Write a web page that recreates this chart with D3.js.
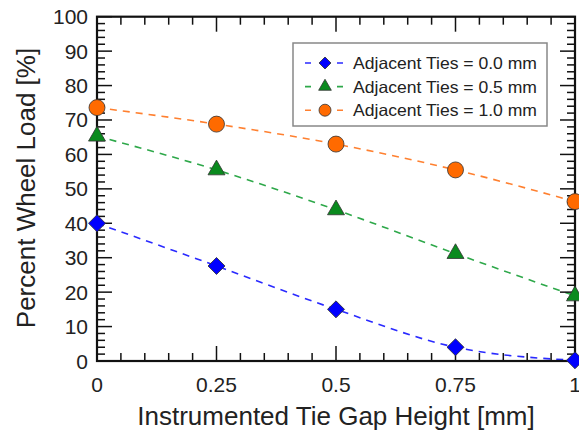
<!DOCTYPE html>
<html><head><meta charset="utf-8">
<script src="https://cdn.jsdelivr.net/npm/d3@7"></script>
<style>
body{margin:0;background:#fff;}
text{font-family:"Liberation Sans",Arial,sans-serif;fill:#222;}
</style></head>
<body><svg id="c" width="579" height="431"></svg>
<script>
const gaps = [0, 0.25, 0.5, 0.75, 1];
const ties00 = [40, 27.6, 15.0, 4.0, 0.2];
const ties05 = [65.3, 55.5, 43.9, 31.2, 18.9];
const ties10 = [73.6, 68.8, 63.0, 55.5, 46.3];
const seriesNames = ["Adjacent Ties = 0.0 mm", "Adjacent Ties = 0.5 mm", "Adjacent Ties = 1.0 mm"];
const xTickVals = [0, 0.25, 0.5, 0.75, 1];
const xTickLabels = ["0", "0.25", "0.5", "0.75", "1"];
const yTickVals = [0,10,20,30,40,50,60,70,80,90,100];

const svg = d3.select("#c");
const L = 97, R = 575, T = 16.7, B = 361;
const x = d3.scaleLinear().domain([0,1]).range([L,R]);
const y = d3.scaleLinear().domain([0,100]).range([B,T]);

const series = [
  {name: seriesNames[0], vals: ties00, line:"#2a2aff", fill:"#0000ff", sym:"diamond"},
  {name: seriesNames[1], vals: ties05, line:"#2ea84a", fill:"#0a8a1e", sym:"triangle"},
  {name: seriesNames[2], vals: ties10, line:"#ff8030", fill:"#ff6a00", sym:"circle"}
];

function symPath(s, big){
  if(s==="diamond") return d3.symbol(d3.symbolSquare, big?144:72)();
  if(s==="triangle") return d3.symbol(d3.symbolTriangle, big?125:70)();
  return d3.symbol(d3.symbolCircle, big?201:113)();
}
function symTransform(s, px, py){
  return `translate(${px},${py})` + (s==="diamond" ? " rotate(45)" : "");
}

// lines
series.forEach(s=>{
  const line = d3.line().x((d,i)=>x(gaps[i])).y(d=>y(d)).curve(d3.curveMonotoneX);
  svg.append("path").attr("d", line(s.vals)).attr("fill","none")
    .attr("stroke", s.line).attr("stroke-width",1.6).attr("stroke-dasharray","7,6");
});

// minor/major ticks
const minorY = d3.range(0,101,2);
const minorX = d3.range(0,1.0001,0.05);
const tg = svg.append("g").attr("stroke","#111").attr("stroke-width",1.5);
minorY.forEach(v=>{
  const major = v%10===0; const len = major?15:8;
  tg.append("line").attr("x1",L).attr("x2",L+len).attr("y1",y(v)).attr("y2",y(v));
  tg.append("line").attr("x1",R).attr("x2",R-len).attr("y1",y(v)).attr("y2",y(v));
});
minorX.forEach(v=>{
  const major = Math.abs(v*4-Math.round(v*4))<1e-6; const len = major?15:8;
  tg.append("line").attr("x1",x(v)).attr("x2",x(v)).attr("y1",B).attr("y2",B-len);
  tg.append("line").attr("x1",x(v)).attr("x2",x(v)).attr("y1",T).attr("y2",T+len);
});
// frame
svg.append("rect").attr("x",L).attr("y",T).attr("width",R-L).attr("height",B-T)
  .attr("fill","none").attr("stroke","#111").attr("stroke-width",2.2);

// tick labels
yTickVals.forEach(v=>{
  svg.append("text").attr("x",88).attr("y",y(v)+7.5).attr("text-anchor","end")
    .attr("font-size",21).text(v);
});
xTickVals.forEach((v,i)=>{
  svg.append("text").attr("x",x(v)).attr("y",392).attr("text-anchor","middle")
    .attr("font-size",21).text(xTickLabels[i]);
});

// titles
svg.append("text").attr("x",336).attr("y",425).attr("text-anchor","middle")
  .attr("font-size",26).text("Instrumented Tie Gap Height [mm]");
svg.append("text").attr("transform","translate(35,188) rotate(-90)").attr("text-anchor","middle")
  .attr("font-size",26).text("Percent Wheel Load [%]");

// markers
series.forEach(s=>{
  s.vals.forEach((v,i)=>{
    svg.append("path").attr("d", symPath(s.sym,true))
      .attr("transform", symTransform(s.sym, x(gaps[i]), y(v)))
      .attr("fill", s.fill).attr("stroke","#333").attr("stroke-width",0.8);
  });
});

// legend
const lg = svg.append("g");
lg.append("rect").attr("x",293).attr("y",43).attr("width",254).attr("height",83)
  .attr("fill","#fff").attr("stroke","#888").attr("stroke-width",1.5);
series.forEach((s,i)=>{
  const cy = 63 + i*23.6;
  lg.append("line").attr("x1",305).attr("x2",343).attr("y1",cy).attr("y2",cy)
    .attr("stroke",s.line).attr("stroke-width",1.6).attr("stroke-dasharray","6,26");
  lg.append("path").attr("d", symPath(s.sym,false)).attr("transform", symTransform(s.sym,325,cy))
    .attr("fill", s.fill).attr("stroke","#333").attr("stroke-width",0.8);
  lg.append("text").attr("x",353).attr("y",cy+6.2).attr("font-size",16.5)
    .attr("textLength",184).attr("lengthAdjust","spacingAndGlyphs").text(s.name);
});
</script></body></html>
